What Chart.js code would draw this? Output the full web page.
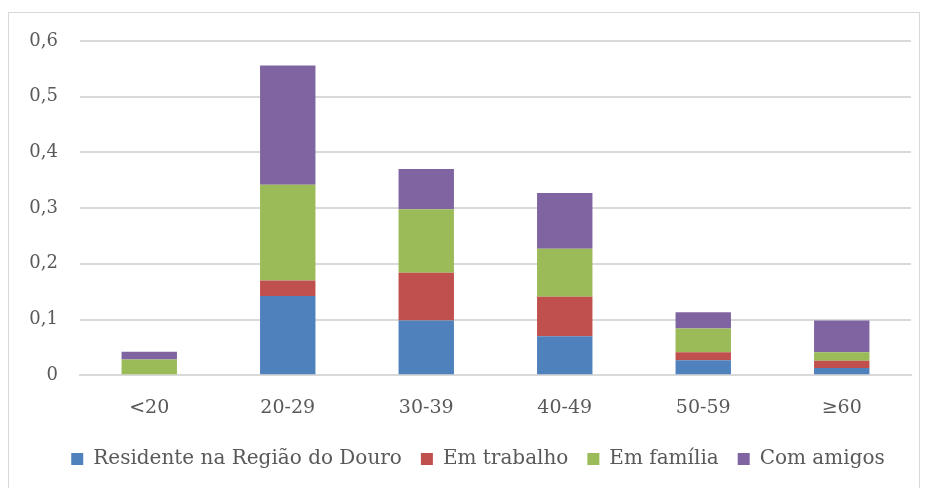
<!DOCTYPE html>
<html>
<head>
<meta charset="utf-8">
<script src="https://cdn.jsdelivr.net/npm/chart.js@4.4.0/dist/chart.umd.min.js"></script>
<style>
  html, body { margin: 0; padding: 0; background: #fff; }
  #box { position: absolute; left: 8px; top: 12px; width: 912px; height: 490px; border: 1px solid #d9d9d9; box-sizing: border-box; }
  #wrap { position: absolute; left: 0; top: 0; width: 910px; height: 476px; }
</style>
</head>
<body>
<div id="box"><div id="wrap"><canvas id="chart"></canvas></div></div>
<script>
var categories = ["<20", "20-29", "30-39", "40-49", "50-59", "\u226560"];
var residente = [0, 0.142, 0.098, 0.070, 0.027, 0.013];
var trabalho = [0, 0.028, 0.086, 0.071, 0.014, 0.013];
var familia = [0.028, 0.172, 0.114, 0.086, 0.043, 0.015];
var amigos = [0.014, 0.214, 0.072, 0.100, 0.029, 0.057];
var seriesNames = ["Residente na Regi\u00e3o do Douro", "Em trabalho", "Em fam\u00edlia", "Com amigos"];
var seriesColors = ["#4f81bd", "#c0504d", "#9bbb59", "#8064a2"];

var fontFam = "'DejaVu Serif', 'Liberation Serif', serif";
var values = [residente, trabalho, familia, amigos];
var datasets = values.map(function (v, i) {
  return {
    label: seriesNames[i],
    data: v,
    backgroundColor: seriesColors[i],
    borderWidth: 0,
    categoryPercentage: 0.8,
    barPercentage: 0.5
  };
});

// nudge legend a bit right, like the original
var legendShift = {
  id: "legendShift",
  afterLayout: function (chart) {
    chart.legend.left += 18;
    chart.legend.right += 18;
  }
};

new Chart(document.getElementById("chart"), {
  type: "bar",
  data: { labels: categories, datasets: datasets },
  plugins: [legendShift],
  options: {
    responsive: true,
    maintainAspectRatio: false,
    animation: false,
    layout: { padding: { left: 0, right: 8, top: 28, bottom: 10 } },
    plugins: {
      tooltip: { enabled: false },
      legend: {
        position: "bottom",
        labels: {
          color: "#595959",
          font: { family: fontFam, size: 20 },
          boxWidth: 12,
          boxHeight: 12,
          padding: 19
        }
      }
    },
    scales: {
      x: {
        stacked: true,
        grid: { display: false },
        border: { color: "#d9d9d9", width: 2 },
        ticks: { color: "#595959", font: { family: fontFam, size: 19 }, padding: 13 },
        afterFit: function (axis) { axis.height -= 2; }
      },
      y: {
        stacked: true,
        min: 0,
        max: 0.6,
        border: { display: false },
        grid: { color: "#d9d9d9", lineWidth: 2, drawTicks: false },
        afterFit: function (axis) { axis.width = 71; axis.paddingTop = 0; axis.paddingBottom = 0; },
        ticks: {
          stepSize: 0.1,
          color: "#595959",
          font: { family: fontFam, size: 18 },
          padding: 22,
          callback: function (v) { return v === 0 ? "0" : v.toFixed(1).replace(".", ","); }
        }
      }
    }
  }
});
</script>
</body>
</html>
